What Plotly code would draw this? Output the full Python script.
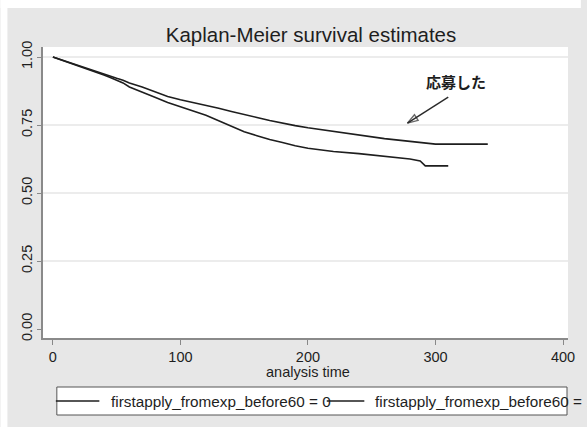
import plotly.graph_objects as go

# ---- data ----
group_labels = ["firstapply_fromexp_before60 = 0", "firstapply_fromexp_before60 = 1"]

t_group0 = [0, 5, 10, 15, 20, 25, 30, 35, 40, 45, 50, 55, 60, 70, 80, 90, 100, 110, 120,
            130, 140, 150, 160, 170, 180, 190, 200, 220, 240, 260, 280, 288, 292, 310]
s_group0 = [1.0, 0.992, 0.984, 0.976, 0.968, 0.96, 0.952, 0.944, 0.934, 0.925, 0.915, 0.905,
            0.89, 0.872, 0.852, 0.833, 0.818, 0.803, 0.786, 0.766, 0.745, 0.725, 0.711, 0.697,
            0.686, 0.674, 0.665, 0.653, 0.645, 0.636, 0.625, 0.618, 0.600, 0.600]

t_group1 = [0, 5, 10, 15, 20, 25, 30, 35, 40, 45, 50, 55, 60, 70, 80, 90, 100, 110, 120,
            130, 140, 150, 160, 170, 180, 190, 200, 220, 240, 260, 280, 300, 341]
s_group1 = [1.0, 0.992, 0.984, 0.976, 0.968, 0.96, 0.952, 0.944, 0.936, 0.929, 0.922, 0.915,
            0.905, 0.89, 0.872, 0.855, 0.843, 0.833, 0.823, 0.812, 0.80, 0.788, 0.778, 0.767,
            0.757, 0.748, 0.740, 0.727, 0.713, 0.70, 0.69, 0.68, 0.68]

y_ticks = [0.0, 0.25, 0.5, 0.75, 1.0]
y_ticklabels = ["0.00", "0.25", "0.50", "0.75", "1.00"]
x_ticks = [0, 100, 200, 300, 400]
x_title = "analysis time"

annot_text = "応募した"
arrow_t = [310, 278]
arrow_s = [0.853, 0.757]
annot_pos = (316, 0.912)

# ---- layout geometry ----
W, H = 587, 427
ML, MR, MT, MB = 43, 13, 47, 89
PW, PH = W - ML - MR, H - MT - MB

def px(x):
    return (x - ML) / PW

def py(y):
    return (H - MB - y) / PH

BG = "#e7e7e7"
INK = "#1e1e1e"
FONT = "Liberation Sans, Arial, sans-serif"

fig = go.Figure()
for t, s in [(t_group0, s_group0), (t_group1, s_group1)]:
    fig.add_trace(go.Scatter(x=t, y=s, mode="lines", line=dict(color=INK, width=1.6),
                             showlegend=False, hoverinfo="skip"))

# annotation arrow
fig.add_trace(go.Scatter(x=arrow_t, y=arrow_s, mode="lines+markers",
                         line=dict(color="#2a2a2a", width=1.4),
                         marker=dict(symbol="arrow-open", size=[0, 11], angleref="previous",
                                     color="#2a2a2a", line=dict(color="#2a2a2a", width=1.4)),
                         showlegend=False, hoverinfo="skip"))

shapes = []
# white outer strips
shapes.append(dict(type="rect", xref="paper", yref="paper", x0=px(0), x1=px(W), y0=py(0), y1=py(8),
                   fillcolor="white", line=dict(width=0), layer="below"))
shapes.append(dict(type="rect", xref="paper", yref="paper", x0=px(0), x1=px(7), y0=py(H), y1=py(0),
                   fillcolor="white", line=dict(width=0), layer="below"))
# gridlines
for v in y_ticks[1:]:
    shapes.append(dict(type="line", xref="paper", yref="y", x0=0, x1=1, y0=v, y1=v,
                       line=dict(color="#e6e6e6", width=1.5), layer="below"))
# legend box
shapes.append(dict(type="rect", xref="paper", yref="paper", x0=px(57), x1=px(573), y0=py(415), y1=py(387),
                   fillcolor="white", line=dict(color="#555555", width=1), layer="above"))
shapes.append(dict(type="line", xref="paper", yref="paper", x0=px(56), x1=px(100), y0=py(401), y1=py(401),
                   line=dict(color=INK, width=1.6)))
shapes.append(dict(type="line", xref="paper", yref="paper", x0=px(330), x1=px(368), y0=py(401), y1=py(401),
                   line=dict(color=INK, width=1.6)))

annotations = [
    dict(xref="paper", yref="paper", x=px(110), y=py(401), xanchor="left", yanchor="middle",
         text=group_labels[0], showarrow=False, font=dict(size=15.3, color=INK, family=FONT)),
    dict(xref="paper", yref="paper", x=px(377), y=py(401), xanchor="left", yanchor="middle",
         text=group_labels[1], showarrow=False, font=dict(size=15.3, color=INK, family=FONT)),
    dict(xref="x", yref="y", x=annot_pos[0], y=annot_pos[1], text="<b>" + annot_text + "</b>",
         showarrow=False, font=dict(size=15, color=INK, family="Noto Sans CJK JP")),
    dict(xref="paper", yref="paper", x=px(311), y=py(372), xanchor="center", yanchor="middle",
         text=x_title, showarrow=False, font=dict(size=14.5, color=INK, family=FONT)),
]

fig.update_layout(
    width=W, height=H,
    margin=dict(l=ML, r=MR, t=MT, b=MB, pad=0),
    paper_bgcolor=BG, plot_bgcolor="white",
    font=dict(family=FONT, color=INK),
    title=dict(text="Kaplan-Meier survival estimates", x=311 / W, xanchor="center",
               y=1 - 35 / H, yanchor="middle", yref="container",
               font=dict(size=20.5, color=INK, family=FONT)),
    xaxis=dict(range=[-7.75, 403.9], tickvals=x_ticks, ticks="outside", ticklen=5,
               tickcolor="#888888", showline=True, linecolor="#8a8a8a", linewidth=1.5,
               showgrid=False, zeroline=False, tickfont=dict(size=14.5, color=INK)),
    yaxis=dict(range=[-0.033, 1.037], tickvals=y_ticks, ticktext=y_ticklabels, ticks="outside",
               ticklen=4, tickcolor="#888888", showline=True, linecolor="#8a8a8a", linewidth=1.5,
               showgrid=False, zeroline=False, tickangle=-90, ticklabelstandoff=-1,
               tickfont=dict(size=14.5, color=INK)),
    shapes=shapes, annotations=annotations,
)

fig.write_html("out.html")
